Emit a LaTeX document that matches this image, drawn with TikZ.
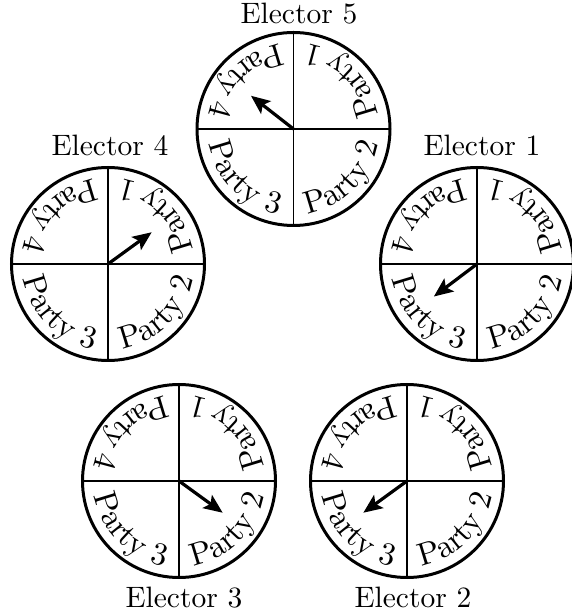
\documentclass[tikz,border=0pt]{standalone}
\usepackage{fontspec}
\usetikzlibrary{decorations.text,arrows.meta,calc}
\newfontfamily\lmtenfont{lmroman10-regular.otf}
\newcommand\mypartyfont{\lmtenfont\fontsize{32}{38}\selectfont}
\begin{document}
\begin{tikzpicture}[x=1pt,y=1pt,
  spinner/.style={circle,draw,line width=3pt,minimum size=193pt,inner sep=0pt,outer sep=0pt},
  divider/.style={line width=1.8pt},
  pointer/.style={line width=3.2pt,-{Stealth[length=19pt,width=16pt,inset=4pt]}},
  lbl/.style={font=\lmtenfont\fontsize{29.5}{35}\selectfont,anchor=base,inner sep=0pt},
  partytext/.style={decorate,decoration={text along path,text align=center,text={|\mypartyfont|#1}}}]
\useasboundingbox (0,0) rectangle (571,616);
\def\rb{86}
\foreach \n/\x/\y/\a/\lx/\ly in {5/293.5/487/142/299/592, 4/108/352/36/110/460, 1/477/352/217/482/460, 3/179/135/-36/184/9, 2/407/135/216/413/9} {
  \node[spinner] (e\n) at (\x,\y) {};
  \draw[divider] (e\n.north) -- (e\n.south);
  \draw[divider] (e\n.west) -- (e\n.east);
  \path[partytext={Party 1}] ($(e\n)+(1:\rb)$) arc[start angle=1,end angle=89,radius=\rb];
  \path[partytext={Party 4}] ($(e\n)+(91:\rb)$) arc[start angle=91,end angle=179,radius=\rb];
  \path[partytext={Party 3}] ($(e\n)+(181:\rb)$) arc[start angle=181,end angle=269,radius=\rb];
  \path[partytext={Party 2}] ($(e\n)+(271:\rb)$) arc[start angle=271,end angle=359,radius=\rb];
  \coordinate (t\n) at ($(e\n)+(\a:54)$);
  \draw[pointer] (e\n.center) -- (t\n);
  \node[lbl] (l\n) at (\lx,\ly) {Elector \n};
}
\end{tikzpicture}
\end{document}
